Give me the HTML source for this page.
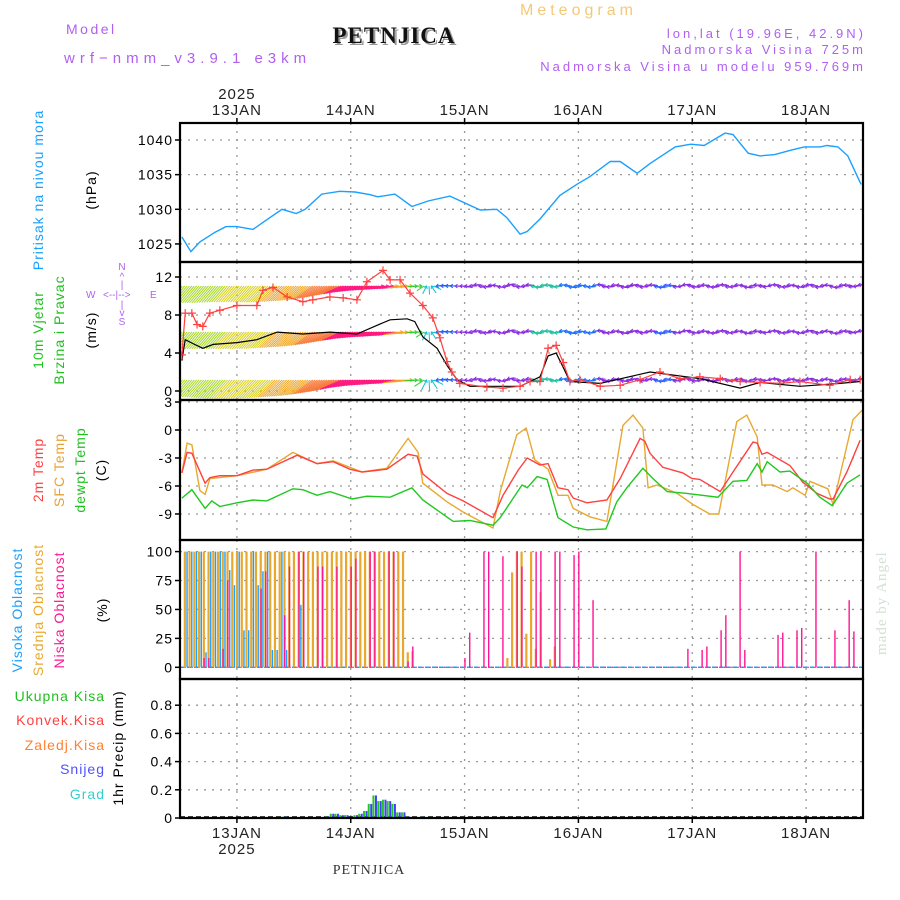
<!DOCTYPE html>
<html><head><meta charset="utf-8"><style>
html,body{margin:0;padding:0;background:#fff;}
svg{display:block;font-family:"Liberation Sans",sans-serif;}
.lab{font-size:14px;letter-spacing:1px;}
.tk{font-size:14px;letter-spacing:1px;text-anchor:end;}
</style></head><body>
<svg id="chart" width="900" height="900" viewBox="0 0 900 900" xmlns="http://www.w3.org/2000/svg">
<rect width="900" height="900" fill="#fff"/>
<text x="66" y="34" fill="#b060f0" font-size="14" letter-spacing="2.5">Model</text>
<text x="64" y="63" fill="#b060f0" font-size="15" letter-spacing="5">wrf−nmm_v3.9.1 e3km</text>
<text x="520" y="15" fill="#f5c878" font-size="16" letter-spacing="4">Meteogram</text>
<text x="396" y="45" fill="#999" font-family="Liberation Serif" font-weight="bold" font-size="23" text-anchor="middle" letter-spacing="1">PETNJICA</text>
<text x="394" y="43" fill="#111" font-family="Liberation Serif" font-weight="bold" font-size="23" text-anchor="middle" letter-spacing="1">PETNJICA</text>
<text x="866" y="38" fill="#b060f0" font-size="13" letter-spacing="3" text-anchor="end">lon,lat (19.96E, 42.9N)</text>
<text x="866" y="54" fill="#b060f0" font-size="13" letter-spacing="3" text-anchor="end">Nadmorska Visina 725m</text>
<text x="866" y="71" fill="#b060f0" font-size="13" letter-spacing="3" text-anchor="end">Nadmorska Visina u modelu 959.769m</text>
<text x="369" y="874" fill="#333" font-family="Liberation Serif" font-size="14" text-anchor="middle" letter-spacing="1">PETNJICA</text>
<text transform="translate(886,655) rotate(-90)" fill="#d4e0d4" font-family="Liberation Serif" font-size="15" letter-spacing="1">made by Angel</text>

<text class="lab" transform="translate(43,190) rotate(-90)" fill="#1aa0ff" text-anchor="middle">Pritisak na nivou mora</text>
<text class="lab" transform="translate(96,190) rotate(-90)" fill="#000" text-anchor="middle">(hPa)</text>
<text class="lab" transform="translate(43,330) rotate(-90)" fill="#20c020" text-anchor="middle">10m Vjetar</text>
<text class="lab" transform="translate(64,330) rotate(-90)" fill="#20c020" text-anchor="middle">Brzina i Pravac</text>
<text class="lab" transform="translate(96,330) rotate(-90)" fill="#000" text-anchor="middle">(m/s)</text>
<g fill="#b060f0" font-size="10">
<text x="122" y="270" text-anchor="middle">N</text><text x="122" y="280" text-anchor="middle">^</text><text x="122" y="288" text-anchor="middle">|</text>
<text x="86" y="298">W</text><text x="103" y="298">&lt;--|--&gt;</text><text x="150" y="298">E</text>
<text x="122" y="308" text-anchor="middle">|</text><text x="122" y="316" text-anchor="middle">v</text><text x="122" y="325" text-anchor="middle">S</text>
</g>
<text class="lab" transform="translate(43,470) rotate(-90)" fill="#ff4040" text-anchor="middle">2m Temp</text>
<text class="lab" transform="translate(64,470) rotate(-90)" fill="#e8a030" text-anchor="middle">SFC Temp</text>
<text class="lab" transform="translate(85,470) rotate(-90)" fill="#20c020" text-anchor="middle">dewpt Temp</text>
<text class="lab" transform="translate(106,470) rotate(-90)" fill="#000" text-anchor="middle">(C)</text>
<text class="lab" transform="translate(22,610) rotate(-90)" fill="#1aa0ff" text-anchor="middle">Visoka Oblacnost</text>
<text class="lab" transform="translate(43,610) rotate(-90)" fill="#e8a830" text-anchor="middle">Srednja Oblacnost</text>
<text class="lab" transform="translate(64,610) rotate(-90)" fill="#ff1493" text-anchor="middle">Niska Oblacnost</text>
<text class="lab" transform="translate(107,610) rotate(-90)" fill="#000" text-anchor="middle">(%)</text>
<text class="lab" x="105" y="701" fill="#20c020" text-anchor="end" letter-spacing="2">Ukupna  Kisa</text>
<text class="lab" x="105" y="725" fill="#ff4040" text-anchor="end" letter-spacing="2">Konvek.Kisa</text>
<text class="lab" x="105" y="750" fill="#ff8030" text-anchor="end" letter-spacing="2">Zaledj.Kisa</text>
<text class="lab" x="105" y="774" fill="#5050ff" text-anchor="end" letter-spacing="2">Snijeg</text>
<text class="lab" x="105" y="799" fill="#30d0d0" text-anchor="end" letter-spacing="2">Grad</text>
<text class="lab" transform="translate(123,748) rotate(-90)" fill="#000" text-anchor="middle">1hr Precip (mm)</text>
<g id="plot"></g>
</svg>
<script>
// ---- data ----
const dayLabels=["13JAN","14JAN","15JAN","16JAN","17JAN","18JAN"];
const dayHours=[12,36,60,84,108,132];
const yearLabel="2025";
const pTicks=[1025,1030,1035,1040];
const wTicks=[0,4,8,12];
const tTicks=[-9,-6,-3,0,3];
const cTicks=[0,25,50,75,100];
const rTicks=[0,0.2,0.4,0.6,0.8];
const rTickLabels=["0","0.2","0.4","0.6","0.8"];

const pHours=[0.4,2.3,4.2,7.4,9.7,12,15.4,17.9,21.5,24.5,26.4,29.9,33.7,36.9,40.1,41.7,45.3,48.9,52.3,56.9,63.3,66.8,68.9,71.7,73.2,75.9,80.1,83.9,86.4,90.7,92.8,96.4,99.1,104.4,107.7,110.5,114.9,116.6,119.8,122.3,125.4,128.6,131.6,135,136.4,138.7,140.8,143.6];
const pVals=[1026,1023.9,1025.3,1026.7,1027.5,1027.5,1027.1,1028.3,1030,1029.4,1030,1032.2,1032.6,1032.5,1032.1,1031.8,1032.2,1030.4,1031.2,1031.9,1029.9,1030,1028.8,1026.4,1026.8,1028.6,1032,1033.7,1034.7,1036.9,1036.9,1035.2,1036.6,1039,1039.4,1039.2,1041,1040.8,1038.1,1037.7,1037.9,1038.5,1039,1039,1039.2,1039,1037.7,1033.6];

const wsHours=[0.4,1.1,2.5,3.6,4.8,6.3,8.4,12,16.2,17.5,19.6,22.6,25.9,28,31.6,34.4,37.3,39.4,42.8,44.3,46.4,48.5,51.2,53.3,54.8,56.3,57.3,59,64.7,68.1,71.7,73.8,75.9,77.6,79.3,80.8,82.2,84.3,88.6,92.8,97,101.2,105.4,109.6,113.9,118.1,122.3,126.5,130.7,137,141.3,143.4];
const wsVals=[3.8,8.2,8.2,7,6.8,8.2,8.5,9,9,10.6,10.9,9.9,9.4,9.6,9.9,9.8,9.6,11.5,12.7,11.7,11.7,10.3,9,7.7,5.6,3.1,2,0.8,0.4,0.3,0.5,1,1,4.5,4.8,3,1,1.2,0.5,0.6,1.2,2,1.3,1.5,1.3,1,0.9,0.8,1,0.6,1.2,1.2];
const wbHours=[0.4,1.1,2.7,4.8,7,12,16.2,20.5,25.9,31.6,37.3,41.5,44.3,47.9,49.5,51.2,54.2,56.3,58.4,61.1,71.7,75.9,77.6,79.3,80.8,82.2,88.6,99.1,109.6,118.1,122.3,130.7,139.2,143.4];
const wbVals=[3.2,5.4,5,4.5,4.9,5.1,5.4,6.2,6,6.2,6,6.9,7.5,7.6,7.3,5.7,4.5,2.7,1.2,0.5,0.5,1.5,3.7,4,2.5,1,0.8,2,1.3,0.3,0.9,0.5,0.8,1];

const arrowHours=[0,3,6,9,12,15,18,21,24,27,30,33,36,39,42,45,48,51,54,57,60,63,66,69,72,75,78,81,84,87,90,93,96,99,102,105,108,111,114,117,120,123,126,129,132,135,138,141,144];
const arrowLenTop=[11,11,11,10.5,10.5,10.5,11,11,11,11,11,10,9,8,7,6,5,4.5,4,3.5,3,3,3,3,3,3,3,3,3,3,3,3,3,3,3,3,3,3,3,3,3,3,3,3,3,3,3,3,3];
const arrowLenMid=[11,11,11,11,11,11,11,11,11,11,11,10.5,10,9.5,9,8,6,5,4,3.5,3,3,3,3,3,3,3,3,3,3,3,3,3,3,3,3,3,3,3,3,3,3,3,3,3,3,3,3,3];
const arrowLenLow=[11,11,11.5,12,12,12,12,12,12,12,12,12,11,10,9,8,7,6,5,4,3,3,3,3,3,3,3,3,3,3,3,3,3,3,3,3,3,3,3,3,3,3,3,3,3,3,3,3,3];
const arrowDir=[220,220,220,220,220,220,222,225,228,232,238,244,250,254,256,258,262,268,85,90,95,85,100,80,90,95,85,90,100,80,90,95,85,90,100,80,90,95,85,90,100,80,90,95,85,90,100,80,90];

const highHours=[1,2,3,4,5,6,7,8,9,10,11,12,13,14,15,16,17,18,19,20,21,22,25];
const highVals=[100,100,100,100,13,100,100,100,100,84,71,100,32,32,100,71,83,100,15,15,100,15,54];
const midHours=[1,2,3,4,5,6,7,8,9,10,11,12,13,14,15,16,17,18,19,20,21,22,23,24,25,26,27,28,29,30,31,32,33,34,35,36,37,38,39,40,41,42,43,44,45,46,47,48,49,69,70,71,72,73,74,75,76,78,79];
const midVals=[100,100,100,100,100,100,100,100,100,100,100,100,100,100,100,100,100,100,100,100,100,100,100,100,100,100,100,100,100,100,100,100,100,100,100,100,100,100,100,100,100,100,100,100,100,100,100,13,14,8,82,100,100,29,100,16,65,7,18];
const lowHours=[5,6,9,10,17,18,22,23,25,26,29,30,33,36,37,40,41,44,45,48,49,60,61,64,65,68,71,72,75,76,79,80,83,84,87,107,110,111,114,115,118,119,126,127,130,131,134,138,141,142];
const lowVals=[8,8,16,75,68,83,45,87,100,100,87,87,87,87,94,100,100,100,100,5,18,8,30,100,100,96,100,87,100,100,100,100,97,100,58,16,15,18,32,45,100,15,28,30,32,34,100,32,58,31];

const rainHours=[22,31,32,33,34,35,37,38,39,40,41,42,43,44,45,46,47,48,51];
const rainTotal=[0.01,0.01,0.03,0.03,0.02,0.02,0.02,0.03,0.05,0.1,0.16,0.12,0.13,0.12,0.1,0.04,0.04,0.01,0.01];
const rainSnow=[0.01,0.01,0.03,0.03,0.02,0.02,0.02,0.03,0.05,0.1,0.16,0.12,0.13,0.12,0.1,0.04,0.04,0.01,0.01];

const t2Hours=[0.4,1.5,2.5,5.3,6.3,8.4,12,15.4,18.3,24.7,28.9,32.3,35.8,38.4,43.6,48.1,50,51.2,56.3,59.7,66,68.1,71.3,73.2,75.9,77.6,79.7,81.8,82.9,85.8,90,92.8,97,98,99.1,101.8,106,107.9,109.6,113.9,116.6,120.8,121.7,122.7,123.8,128.6,131.3,134.3,137,137.7,140.6,143.4];
const t2Vals=[-4.6,-2.4,-2.5,-5.7,-5.1,-4.9,-4.9,-4.3,-4.2,-2.7,-3.6,-3.4,-4.2,-4.5,-4.2,-2.6,-2.8,-4.7,-6.8,-7.6,-9.4,-7,-4.3,-3,-3.75,-3.6,-6.2,-6.4,-7.3,-7.8,-7.5,-5.2,-0.9,-1.2,-2.5,-4,-4.6,-5.2,-5.3,-6.6,-4.5,-1.3,-1.4,-2.6,-2.4,-3.8,-5.6,-6.8,-7.4,-7.4,-4.5,-1.1];
const tsHours=[0.4,1.5,2.5,4.2,5.3,6.3,12,18.3,23.8,28.9,32.3,38.4,43.6,48.1,50.2,51.2,56.3,59.7,66,67.5,71,73,74.8,77.6,79.7,81.8,82.9,86.4,90,93.4,95.5,97.6,98.7,100.6,104.8,108.2,111.7,113.6,117.4,119.5,121.7,122.7,125,128,129.2,131.8,132.8,136.6,137.7,141.9,143.8];
const tsVals=[-4.6,-1.4,-1.6,-6.5,-6.9,-5.2,-4.9,-4.2,-2.4,-3.6,-3.3,-4.5,-4.1,-0.9,-2.4,-5.7,-7.7,-8.8,-10.5,-6.6,-0.5,0.2,-3.2,-4.2,-7,-7,-8.4,-9.3,-9.8,0.5,1.6,0.2,-6.2,-5.9,-6.8,-8,-9,-9,0.9,1.6,-0.75,-5.9,-5.9,-6.6,-6.2,-7,-5.5,-6.3,-8,1.1,2.1];
const tdHours=[0.4,2.5,5.3,6.7,8.4,12,15.4,18.3,23.8,25.9,28.9,31.6,36.3,39.4,44.3,48.9,51.2,57.6,61.1,66,67.5,72.1,73.2,75.3,77.4,79.7,82.9,85.8,89.8,92.1,94.2,97.6,99.7,102.7,106.9,113.4,116.6,119.5,121.7,122.7,123.8,126.5,128.6,132.2,134.9,137.5,140.6,143.4];
const tdVals=[-7.3,-6.4,-8.4,-7.6,-8.2,-7.8,-7.5,-7.6,-6.3,-6.4,-7,-6.6,-7.4,-7.1,-7.2,-6.2,-7.5,-9.8,-9.7,-10.2,-9.4,-5.9,-6.2,-5,-5.3,-9.4,-10.4,-10.7,-10.6,-7.7,-6.2,-4.1,-5.2,-6.6,-6.8,-7.2,-5.5,-5.4,-3.6,-4.5,-3.4,-4.5,-4.4,-5.7,-7.2,-8.1,-5.7,-4.8];

// ---- scales ----
const X0=180,X1=863;
const X=h=>X0+h*4.743;
const yP=v=>140+(1040-v)*6.93;
const yW=v=>391-v*9.5;
const yT=v=>430-v*9.33;
const yC=v=>667.3-v*1.157;
const yR=v=>818-v*141;
const panels=[[123,262],[262,400],[400,540],[540,679],[679,818]];

const NS="http://www.w3.org/2000/svg";
const plot=document.getElementById('plot');
function mk(tag,attrs,parent){const e=document.createElementNS(NS,tag);for(const k in attrs)e.setAttribute(k,attrs[k]);(parent||plot).appendChild(e);return e;}

const defs=mk('defs',{});
const cp=mk('clipPath',{id:'clipAll'},defs);
mk('rect',{x:X0,y:123,width:X1-X0,height:695},cp);

const grid=mk('g',{});


panels.forEach(p=>{dayHours.forEach(h=>{mk('line',{x1:X(h),x2:X(h),y1:p[0],y2:p[1],stroke:'#999','stroke-width':1.3,'stroke-dasharray':'2 6'},grid);});});
function hgrid(vals,fn,fmt,name){
  vals.forEach((v,i)=>{const y=fn(v);
    mk('line',{x1:X0,x2:X1,y1:y,y2:y,stroke:'#999','stroke-width':1.3,'stroke-dasharray':'2 6'},grid);
    mk('line',{x1:X0-5,x2:X0,y1:y,y2:y,stroke:'#000','stroke-width':1.5});
    const t=mk('text',{x:X0-7,y:y+5,'class':'tk'});t.textContent=fmt(v,i);
    
    
  });
}
hgrid(pTicks,yP,v=>v,'pressure');
hgrid(wTicks,yW,v=>v,'wind');
hgrid(tTicks,yT,v=>v,'temp');
hgrid(cTicks,yC,v=>v,'cloud');
hgrid(rTicks,yR,(v,i)=>rTickLabels[i],'precip');

dayHours.forEach((h,i)=>{
  const t=mk('text',{x:X(h),y:115,'text-anchor':'middle','font-size':15,'letter-spacing':1,fill:'#222'});t.textContent=dayLabels[i];
  
  
  const b=mk('text',{x:X(h),y:838,'text-anchor':'middle','font-size':15,'letter-spacing':1,fill:'#222'});b.textContent=dayLabels[i];
  
  
  mk('line',{x1:X(h),x2:X(h),y1:118,y2:123,stroke:'#000','stroke-width':1.5});
  mk('line',{x1:X(h),x2:X(h),y1:818,y2:823,stroke:'#000','stroke-width':1.5});
});
const yt=mk('text',{x:X(dayHours[0]),y:99,'text-anchor':'middle','font-size':15,'letter-spacing':1,fill:'#222'});yt.textContent=yearLabel;


const yb=mk('text',{x:X(dayHours[0]),y:854,'text-anchor':'middle','font-size':15,'letter-spacing':1,fill:'#222'});yb.textContent=yearLabel;



function line(hours,vals,fn,color,name,w){
  const d=hours.map((h,i)=>(i?'L':'M')+X(h).toFixed(1)+' '+fn(vals[i]).toFixed(1)).join(' ');
  const p=mk('path',{d:d,fill:'none',stroke:color,'stroke-width':w||1.4,'clip-path':'url(#clipAll)'});
  
  
  return p;
}
line(pHours,pVals,yP,'#1aa0ff','pressure-line');

function interp(hs,vs,h){if(h<=hs[0])return vs[0];for(let i=1;i<hs.length;i++){if(h<=hs[i]){const f=(h-hs[i-1])/(hs[i]-hs[i-1]);return vs[i-1]+f*(vs[i]-vs[i-1]);}}return vs[vs.length-1];}
function arrowColor(h){
  if(h<10)return '#a8d828';if(h<20)return '#d8d020';if(h<28)return '#f0a828';if(h<34)return '#f87838';
  if(h<46)return '#ff1a80';if(h<50)return '#f8a020';if(h<52)return '#30d030';if(h<54)return '#10c0d0';
  if(h<58)return '#2060ff';if(h>=74&&h<80)return '#20c0a0';if(h>=80&&h<88)return '#2070ff';
  if(h>=100&&h<104)return '#3060ff';return '#8a2be2';
}
const windG=mk('g',{'clip-path':'url(#clipAll)'});


[[286,arrowLenTop],[332,arrowLenMid],[380,arrowLenLow]].forEach(row=>{
  for(let h=0;h<=144;h+=0.5){
    const L=interp(arrowHours,row[1],h)*2;
    const d=interp(arrowHours,arrowDir,h);
    const t=(d+180)*Math.PI/180;
    const dx=Math.sin(t),dy=-Math.cos(t);
    const x=X(h),y=row[0]+(h>60?Math.sin(h*1.7)*1.2:0);
    const c=arrowColor(h);
    const a=mk('line',{x1:x,y1:y,x2:x-L*dx,y2:y-L*dy,stroke:c,'stroke-width':1},windG);
    
    
    if(L<14&&h%1===0){
      const hx=-dx,hy=-dy;const s=3;
      mk('path',{d:`M${x+s*(hx*0.8-hy*0.6)} ${y+s*(hy*0.8+hx*0.6)} L${x} ${y} L${x+s*(hx*0.8+hy*0.6)} ${y+s*(hy*0.8-hx*0.6)}`,fill:'none',stroke:c,'stroke-width':1},windG);
    }
  }
});
line(wbHours,wbVals,yW,'#000','wind-speed-black-line',1.2);
line(wsHours,wsVals,yW,'#ff4040','wind-gust-red-line',1.2);
wsHours.forEach((h,i)=>{
  const x=X(h),y=yW(wsVals[i]);
  const m=mk('path',{d:`M${x-4} ${y}L${x+4} ${y}M${x} ${y-4}L${x} ${y+4}`,stroke:'#ff4040','stroke-width':1.2,'clip-path':'url(#clipAll)'});
  
  
});

line(tsHours,tsVals,yT,'#e8a830','sfc-temp-line');
line(t2Hours,t2Vals,yT,'#ff4040','temp-2m-line');
line(tdHours,tdVals,yT,'#20c820','dewpoint-line');

function bars(hours,vals,fn,base,color,dx,w,name){
  hours.forEach((h,i)=>{const y=fn(vals[i]);
    const r=mk('rect',{x:X(h)+dx,y:y,width:w,height:Math.max(0,base-y),fill:color});
    
    
  });
}
mk('line',{x1:X0,x2:X1,y1:yC(0),y2:yC(0),stroke:'#1aa0ff','stroke-width':1.5,'stroke-dasharray':'4 3'});
mk('line',{x1:X0+4,x2:X1,y1:yC(0),y2:yC(0),stroke:'#ff1493','stroke-width':1,'stroke-dasharray':'2 5'});
bars(midHours,midVals,yC,yC(0),'#e8a830',-1,2.2,'mid-cloud-bar');
bars(highHours,highVals,yC,yC(0),'#1aa0ff',1.6,1.4,'high-cloud-bar');
bars(lowHours,lowVals,yC,yC(0),'#ff1493',-0.3,1.4,'low-cloud-bar');

mk('line',{x1:X0,x2:X1,y1:817,y2:817,stroke:'#000','stroke-width':1.5,'stroke-dasharray':'5 3'});
bars(rainHours,rainTotal,yR,817,'#20c820',-2,2,'total-precip-bar');
bars(rainHours,rainSnow,yR,817,'#4040ff',0.5,2,'snow-precip-bar');

panels.forEach((p,i)=>{
  const f=mk('rect',{x:X0,y:p[0],width:X1-X0,height:p[1]-p[0],fill:'none',stroke:'#000','stroke-width':2.2});
  
  
});
</script>
</body></html>
